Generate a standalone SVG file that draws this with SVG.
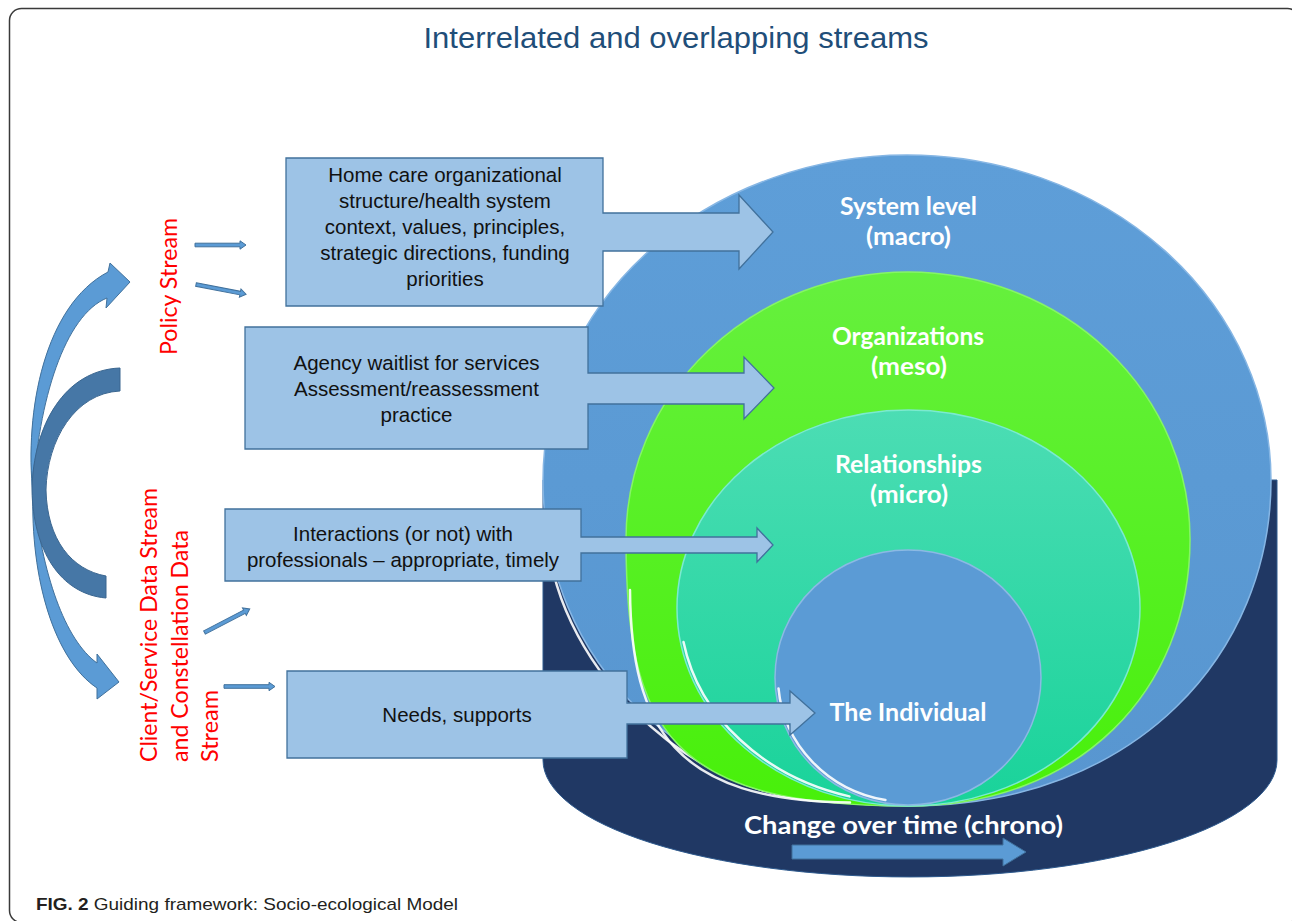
<svg xmlns="http://www.w3.org/2000/svg" width="1292" height="921" viewBox="0 0 1292 921">
<style>
.box{fill:#9DC3E6;stroke:#41719C;stroke-width:1.3}
.bt{font-family:"Liberation Sans",Arial,sans-serif;font-size:20.5px;fill:#111;text-anchor:middle}
.lbl{font-family:Lato,"Open Sans",sans-serif;font-weight:bold;font-size:24px;fill:#fff;text-anchor:middle}
.red{font-family:Lato,"Open Sans",sans-serif;font-size:23px;fill:#FF0000}
.arr{fill:#5B9BD5;stroke:#41719C;stroke-width:1}
.rim{fill:none;stroke:#fff;stroke-width:2.5;stroke-linecap:round;opacity:0.9}
</style>
<defs>
<linearGradient id="gBlue" x1="0" y1="0" x2="0" y2="1"><stop offset="0" stop-color="#5E9ED8"/><stop offset="1" stop-color="#5896D0"/></linearGradient>
<linearGradient id="gGreen" x1="0" y1="0" x2="0" y2="1"><stop offset="0" stop-color="#66F03E"/><stop offset="1" stop-color="#48F00A"/></linearGradient>
<linearGradient id="gTeal" x1="0" y1="0" x2="0" y2="1"><stop offset="0" stop-color="#4CDDB4"/><stop offset="1" stop-color="#19D39A"/></linearGradient>
<path id="sa" d="M0,-1.8 H45 V-4.2 L51,0 L45,4.2 V1.8 H0 Z"/>
</defs>
<rect x="9.5" y="8.5" width="1290" height="914" rx="12" fill="#fff" stroke="#3a3a3a" stroke-width="1.5"/>
<text x="676" y="48" font-family="'Liberation Sans',Arial,sans-serif" font-size="30" fill="#1F4E79" text-anchor="middle" textLength="505" lengthAdjust="spacingAndGlyphs">Interrelated and overlapping streams</text>

<g id="model">
<path d="M543,480 L1277,480 L1277,760 A367,117 0 0 1 543,760 Z" fill="#203864" stroke="#2E5A8E" stroke-width="1"/>
<g id="system">
<path d="M543,480.5 A364,325.5 0 0 1 1271,480.5 C1271,650 1140,806 907,806 C680,806 543,660 543,480.5 Z" fill="url(#gBlue)" stroke="#86B6E4" stroke-width="1.5"/>
<path class="rim" d="M547.5,525 C548,655 685,801 835,802"/>
</g>
<g id="orgs">
<path d="M626,539 A282,267 0 0 1 1190,539 C1190,690 1080,806 908,806 C670,806 626,730 626,539 Z" fill="url(#gGreen)" stroke="#86F565" stroke-width="1.5"/>
<path class="rim" d="M630,590 C631,728 675,801 850,802.5"/>
</g>
<g id="rels">
<ellipse cx="908.5" cy="608" rx="231.5" ry="198" fill="url(#gTeal)" stroke="#7BEAD0" stroke-width="1.5"/>
<path class="rim" d="M683.5,641.9 A228.5,195 0 0 0 849.4,796.4"/>
</g>
<g id="individual">
<ellipse cx="908" cy="677.5" rx="133" ry="127.5" fill="#5B9BD5" stroke="#8CB9E4" stroke-width="1.5"/>
<path class="rim" d="M778.5,688.4 A130,124.5 0 0 0 885.4,800.1"/>
</g>
</g>

<g id="box1">
<path class="box" d="M286,158 H603 V213 H739 V195 L773,232 L739,269 V251 H603 V306 H286 Z"/>
<text class="bt" x="445" y="182">Home care organizational</text>
<text class="bt" x="445" y="208">structure/health system</text>
<text class="bt" x="445" y="234">context, values, principles,</text>
<text class="bt" x="445" y="260">strategic directions, funding</text>
<text class="bt" x="445" y="286">priorities</text>
</g>
<g id="box2">
<path class="box" d="M245,327 H588 V373 H744 V357 L774,388 L744,419 V404 H588 V449 H245 Z"/>
<text class="bt" x="416.5" y="370">Agency waitlist for services</text>
<text class="bt" x="416.5" y="396">Assessment/reassessment</text>
<text class="bt" x="416.5" y="422">practice</text>
</g>
<g id="box3">
<path class="box" d="M225,509 H581 V537 H757 V528 L773,545 L757,562 V553 H581 V581 H225 Z"/>
<text class="bt" x="403" y="541">Interactions (or not) with</text>
<text class="bt" x="403" y="567">professionals – appropriate, timely</text>
</g>
<g id="box4">
<path class="box" d="M287,671 H627 V703 H790 V691 L815,713 L790,735 V724 H627 V758 H287 Z"/>
<text class="bt" x="457" y="722">Needs, supports</text>
</g>

<g id="labels">
<text class="lbl" x="908.5" y="215" textLength="137" lengthAdjust="spacingAndGlyphs">System level</text>
<text class="lbl" x="908.5" y="245" textLength="85" lengthAdjust="spacingAndGlyphs">(macro)</text>
<text class="lbl" x="908" y="345" textLength="152" lengthAdjust="spacingAndGlyphs">Organizations</text>
<text class="lbl" x="909" y="375" textLength="76" lengthAdjust="spacingAndGlyphs">(meso)</text>
<text class="lbl" x="908.5" y="473" textLength="147" lengthAdjust="spacingAndGlyphs">Relationships</text>
<text class="lbl" x="909" y="503" textLength="78" lengthAdjust="spacingAndGlyphs">(micro)</text>
<text class="lbl" x="908" y="721" textLength="157" lengthAdjust="spacingAndGlyphs">The Individual</text>
</g>

<g id="chrono">
<text class="lbl" x="903.5" y="834" font-size="26" textLength="319" lengthAdjust="spacingAndGlyphs">Change over time (chrono)</text>
<path class="arr" d="M792,845 H1003 V838 L1026,852 L1003,866 V859 H792 Z"/>
</g>

<g id="streams">
<text class="red" transform="translate(177,355) rotate(-90)" textLength="137" lengthAdjust="spacingAndGlyphs">Policy Stream</text>
<text class="red" transform="translate(157,762) rotate(-90)" textLength="274" lengthAdjust="spacingAndGlyphs">Client/Service Data Stream</text>
<text class="red" transform="translate(188,762) rotate(-90)" textLength="232" lengthAdjust="spacingAndGlyphs">and Constellation Data</text>
<text class="red" transform="translate(218,762) rotate(-90)" textLength="72" lengthAdjust="spacingAndGlyphs">Stream</text>
</g>

<g id="connectors">
<use href="#sa" class="arr" transform="translate(195,245)"/>
<use href="#sa" class="arr" transform="translate(196,284.5) rotate(11)"/>
<use href="#sa" class="arr" transform="translate(204.5,632.5) rotate(-27.5)"/>
<use href="#sa" class="arr" transform="translate(224,686.5)"/>
<path class="arr" d="M33,495 C24,410 45,305 108,272 L110,263 L130,282 L106,308 L107,298 C65,315 38,400 33,495 Z"/>
<path class="arr" d="M33,490 C30,580 55,660 97,688 L97,699 L119,682 L97,654 L97,663 C65,640 42,575 33,490 Z"/>
<path d="M120,368 C65,370 33,425 32,490 C33,550 60,594 106,598 L106,576 C72,570 47,540 46,490 C47,440 75,393 120,391 Z" fill="#4677A6" stroke="#3A6690" stroke-width="1"/>
</g>

<text x="36" y="910" font-family="'Liberation Sans',Arial,sans-serif" font-size="17" fill="#231F20" textLength="422" lengthAdjust="spacingAndGlyphs"><tspan font-weight="bold">FIG. 2</tspan> Guiding framework: Socio-ecological Model</text>
</svg>
